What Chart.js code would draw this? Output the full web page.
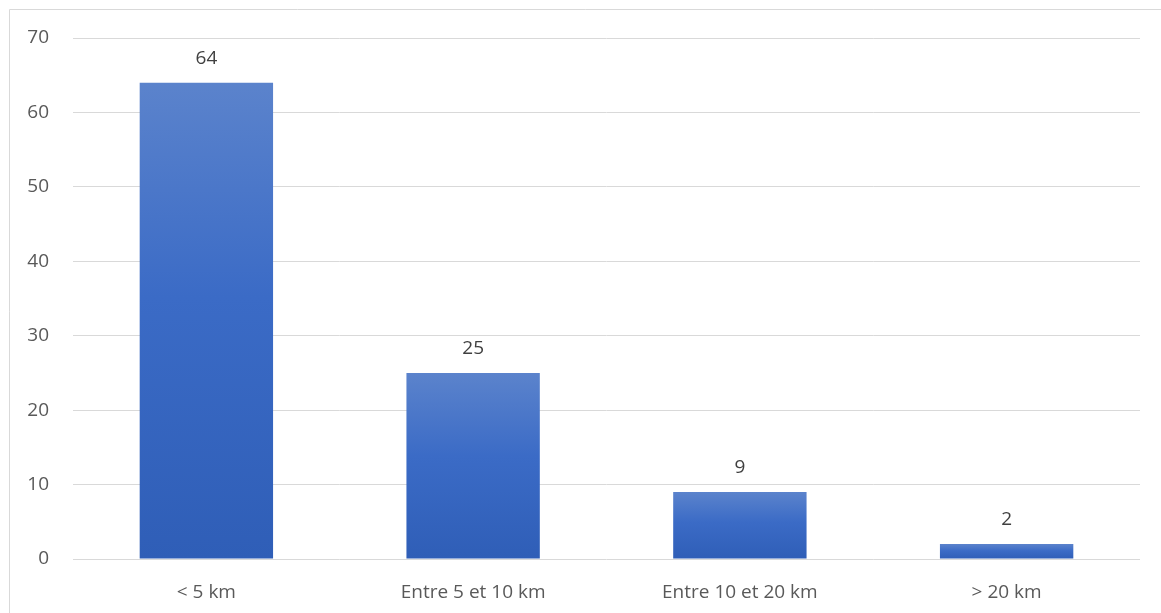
<html lang="fr">
<head>
  <meta charset="UTF-8">
  <title>Distance</title>
  <script src="https://cdn.jsdelivr.net/npm/chart.js"></script>
  <style>
    body { margin: 0; background: #fff; }
    #wrap { width: 1161px; height: 613px; }
  </style>
  <script>
    const categories = ['< 5 km', 'Entre 5 et 10 km', 'Entre 10 et 20 km', '> 20 km']
    const values = [64, 25, 9, 2]
    const yTicks = [0, 10, 20, 30, 40, 50, 60, 70]

    const textColor = '#595959'
    const fontFamily = '"Open Sans", "Noto Sans", sans-serif'

    // gradient per bar, light on top and darker at the base
    function barGradient(ctx) {
      const chart = ctx.chart
      if (!chart.chartArea || ctx.type !== 'data') return '#3f6cc4'
      const y = chart.scales.y
      const top = y.getPixelForValue(ctx.raw)
      const bottom = y.getPixelForValue(0)
      if (!isFinite(top) || bottom - top < 1) return '#3f6cc4'
      const g = chart.ctx.createLinearGradient(0, top, 0, bottom)
      g.addColorStop(0, '#5b83cc')
      g.addColorStop(0.45, '#3b6bc6')
      g.addColorStop(1, '#2f5eb7')
      return g
    }

    const frame = {
      id: 'frame',
      beforeDraw(chart) {
        const c = chart.ctx
        c.save()
        c.strokeStyle = '#d9d9d9'
        c.lineWidth = 1
        c.beginPath()
        c.moveTo(9.5, 700)
        c.lineTo(9.5, 9.5)
        c.lineTo(1161, 9.5)
        c.stroke()
        c.restore()
      }
    }

    const valueLabels = {
      id: 'valueLabels',
      afterDatasetsDraw(chart) {
        const c = chart.ctx
        c.save()
        c.fillStyle = '#404040'
        c.font = '19px ' + fontFamily
        c.textAlign = 'center'
        c.textBaseline = 'bottom'
        chart.getDatasetMeta(0).data.forEach((bar, i) => {
          c.fillText(values[i], bar.x, bar.y - 15)
        })
        c.restore()
      }
    }

    window.onload = () => {
      const chart = document.getElementById('chart')
      new Chart(chart, {
        type: 'bar',
        data: {
          labels: categories,
          datasets: [{
            data: values,
            backgroundColor: barGradient,
            borderWidth: 0,
            categoryPercentage: 1,
            barPercentage: 0.5
          }]
        },
        options: {
          responsive: false,
          animation: false,
          layout: { padding: { top: 38, right: 21, left: 10, bottom: 0 } },
          plugins: { legend: { display: false }, tooltip: { enabled: false } },
          scales: {
            x: {
              grid: { display: false },
              border: { display: false },
              ticks: { color: textColor, font: { size: 19, family: fontFamily }, padding: 14 },
              afterFit: s => { s.height = 54 }
            },
            y: {
              min: 0,
              max: 70,
              afterBuildTicks: s => { s.ticks = yTicks.map(v => ({ value: v })) },
              grid: { color: '#d9d9d9', lineWidth: 1, drawTicks: false },
              border: { display: false },
              ticks: { color: textColor, font: { size: 19, family: fontFamily }, padding: 24 },
              afterFit: s => { s.width = 63 }
            }
          }
        },
        plugins: [frame, valueLabels]
      })
    }
  </script>
</head>
<body>
  <div id="wrap">
    <canvas id="chart" width="1161" height="613"></canvas>
  </div>
</body>
</html>
